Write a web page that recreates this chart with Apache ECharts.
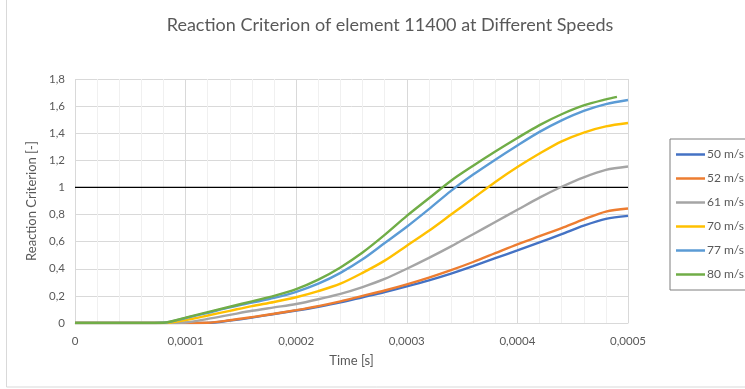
<!DOCTYPE html>
<html>
<head>
<meta charset="utf-8">
<script src="https://cdn.jsdelivr.net/npm/echarts@6/dist/echarts.min.js"></script>
<style>
  html, body { margin: 0; padding: 0; background: #fff; }
  #chart { width: 745px; height: 389px; }
</style>
</head>
<body>
<div id="chart"></div>
<script>
// Sample times [s]
const time = [0, 0.00002, 0.00004, 0.00006, 0.00008, 0.0001, 0.00012, 0.00014, 0.00016, 0.00018,
  0.0002, 0.00022, 0.00024, 0.00026, 0.00028, 0.0003, 0.00032, 0.00034, 0.00036, 0.00038,
  0.0004, 0.00042, 0.00044, 0.00046, 0.00048, 0.0005];
// The 80 m/s run stops slightly earlier
const time80 = [0, 0.00002, 0.00004, 0.00006, 0.00008, 0.0001, 0.00012, 0.00014, 0.00016, 0.00018,
  0.0002, 0.00022, 0.00024, 0.00026, 0.00028, 0.0003, 0.00032, 0.00034, 0.00036, 0.00038,
  0.0004, 0.00042, 0.00044, 0.00046, 0.00048, 0.00049];

const speeds = ['50 m/s', '52 m/s', '61 m/s', '70 m/s', '77 m/s', '80 m/s'];
const colors = ['#4472C4', '#ED7D31', '#A5A5A5', '#FFC000', '#5B9BD5', '#70AD47'];

const rc50 = [0, 0, 0, 0, 0, 0, 0.001, 0.018, 0.04, 0.066, 0.092, 0.12, 0.152, 0.19, 0.228, 0.27,
  0.315, 0.365, 0.42, 0.478, 0.535, 0.595, 0.655, 0.718, 0.768, 0.79];
const rc52 = [0, 0, 0, 0, 0, 0, 0.002, 0.02, 0.043, 0.068, 0.095, 0.125, 0.16, 0.2, 0.24, 0.285,
  0.335, 0.39, 0.45, 0.515, 0.58, 0.64, 0.70, 0.765, 0.822, 0.845];
const rc61 = [0, 0, 0, 0, 0, 0.004, 0.03, 0.06, 0.09, 0.115, 0.14, 0.175, 0.215, 0.265, 0.325, 0.4,
  0.48, 0.565, 0.655, 0.745, 0.835, 0.925, 1.005, 1.075, 1.13, 1.155];
const rc70 = [0, 0, 0, 0, 0, 0.022, 0.055, 0.09, 0.125, 0.155, 0.19, 0.235, 0.29, 0.37, 0.46, 0.57,
  0.68, 0.80, 0.92, 1.04, 1.15, 1.25, 1.34, 1.405, 1.45, 1.475];
const rc77 = [0, 0, 0, 0, 0.002, 0.037, 0.075, 0.115, 0.15, 0.185, 0.23, 0.29, 0.37, 0.47, 0.59, 0.71,
  0.84, 0.975, 1.095, 1.205, 1.31, 1.41, 1.495, 1.565, 1.615, 1.645];
const rc80 = [0, 0, 0, 0, 0.002, 0.04, 0.08, 0.12, 0.16, 0.2, 0.25, 0.32, 0.41, 0.52, 0.65, 0.79,
  0.92, 1.05, 1.16, 1.265, 1.365, 1.46, 1.54, 1.605, 1.65, 1.668];

const criterionLimit = 1;

const seriesValues = [rc50, rc52, rc61, rc70, rc77, rc80];
const seriesTimes = [time, time, time, time, time, time80];

const FONT = 'Lato';
const TXT = '#595959';

const pairs = (xs, ys) => xs.map((x, i) => [x, ys[i]]);
const commaNum = v => String(v).replace('.', ',');

const curves = speeds.map((name, i) => ({
  name,
  type: 'line',
  data: pairs(seriesTimes[i], seriesValues[i]),
  smooth: 0.3,
  symbol: 'none',
  lineStyle: { width: 2.4, color: colors[i] },
  itemStyle: { color: colors[i] },
  z: 3 + i
}));

const chart = echarts.init(document.getElementById('chart'), null, { renderer: 'canvas' });
chart.setOption({
  animation: false,
  backgroundColor: '#ffffff',
  title: {
    text: 'Reaction Criterion of element 11400 at Different Speeds',
    left: 385,
    top: 11,
    textAlign: 'center',
    textStyle: { fontFamily: FONT, fontSize: 18, fontWeight: 'normal', color: TXT }
  },
  graphic: [{
    type: 'rect',
    shape: { x: 6.5, y: -5, width: 800, height: 392 },
    style: { fill: 'none', stroke: '#d9d9d9', lineWidth: 1 },
    silent: true
  }],
  legend: {
    data: speeds.map(name => ({ name, icon: 'rect' })),
    orient: 'vertical',
    left: 670,
    top: 139,
    padding: [8, 12, 8, 6],
    itemWidth: 29,
    itemHeight: 2.5,
    itemGap: 9,
    borderColor: '#7f7f7f',
    borderWidth: 1,
    textStyle: { fontFamily: FONT, fontSize: 12, color: TXT, padding: [0, 0, 0, -3], lineHeight: 15 }
  },
  grid: { left: 75, right: 117, top: 79, bottom: 66, containLabel: false },
  xAxis: {
    type: 'value',
    min: 0,
    max: 0.0005,
    interval: 0.0001,
    name: 'Time [s]',
    nameLocation: 'middle',
    nameGap: 31,
    nameTextStyle: { fontFamily: FONT, fontSize: 13, color: TXT },
    axisLine: { show: true, lineStyle: { color: '#d9d9d9', width: 1 } },
    axisTick: { show: false },
    axisLabel: {
      fontFamily: FONT, fontSize: 11.5, color: TXT, margin: 12,
      formatter: v => v === 0 ? '0' : commaNum(v.toFixed(4))
    },
    splitLine: { show: true, lineStyle: { color: '#d9d9d9', width: 1 } },
    minorTick: { show: false, splitNumber: 5 },
    minorSplitLine: { show: true, lineStyle: { color: '#f0f0f0', width: 1 } }
  },
  yAxis: {
    type: 'value',
    min: 0,
    max: 1.8,
    interval: 0.2,
    name: 'Reaction Criterion [-]',
    nameLocation: 'middle',
    nameGap: 37,
    nameTextStyle: { fontFamily: FONT, fontSize: 13, color: TXT },
    axisLine: { show: false },
    axisTick: { show: false },
    axisLabel: {
      fontFamily: FONT, fontSize: 11.5, color: TXT, margin: 10,
      formatter: v => commaNum(Math.round(v * 10) / 10)
    },
    splitLine: { show: true, lineStyle: { color: '#d9d9d9', width: 1 } }
  },
  series: [
    ...curves,
    {
      name: 'limit',
      type: 'line',
      data: [[0, criterionLimit], [0.0005, criterionLimit]],
      symbol: 'none',
      lineStyle: { color: '#000000', width: 1.2 },
      z: 2,
      silent: true
    }
  ]
});
</script>
</body>
</html>
